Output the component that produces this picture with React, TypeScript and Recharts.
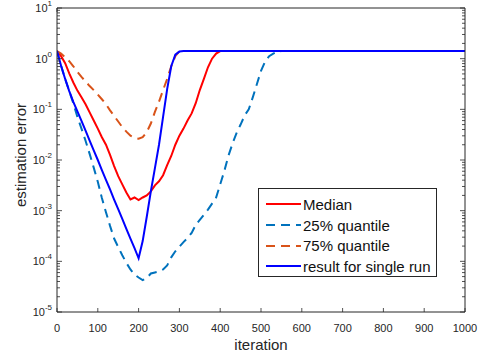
import React from 'react';
import { LineChart, Line, XAxis, YAxis, Legend } from 'recharts';

// iteration grid the curves were read at
const iterations = [
  0, 10, 20, 30, 40, 50, 60, 70, 80, 90,
  100, 110, 120, 130, 140, 150, 160, 170, 180, 190,
  200, 210, 220, 230, 240, 250, 260, 270, 280, 290,
  300, 310, 320, 330, 340, 350, 360, 370, 380, 390,
  400, 410, 420, 430, 440, 450, 460, 470, 480, 490,
  500, 510, 520, 530, 540, 550,
  600, 700, 800, 900, 1000,
];

const medianErr = [
  1.41, 1.12, 0.813, 0.513, 0.339, 0.234, 0.174, 0.126, 0.0871, 0.0603,
  0.0417, 0.0282, 0.02, 0.0126, 0.00759, 0.00479, 0.00331, 0.00229, 0.00166, 0.00182,
  0.00162, 0.00182, 0.002, 0.0024, 0.00316, 0.0038, 0.00501, 0.00794, 0.012, 0.02,
  0.0302, 0.0417, 0.0603, 0.0832, 0.132, 0.24, 0.398, 0.676, 1.0, 1.26,
  1.41, 1.41, 1.41, 1.41, 1.41, 1.41, 1.41, 1.41, 1.41, 1.41,
  1.41, 1.41, 1.41, 1.41, 1.41, 1.41,
  1.41, 1.41, 1.41, 1.41, 1.41,
];

const q25Err = [
  1.41, 0.724, 0.398, 0.229, 0.132, 0.0708, 0.0417, 0.024, 0.0132, 0.00708,
  0.00372, 0.00178, 0.000933, 0.000501, 0.000282, 0.000191, 0.000132, 9.33e-5, 6.92e-5, 5.5e-5,
  4.79e-5, 4.27e-5, 4.68e-5, 5.75e-5, 6.03e-5, 6.31e-5, 6.92e-5, 8.32e-5, 0.00012, 0.000158,
  0.000195, 0.00024, 0.000288, 0.000363, 0.000525, 0.000661, 0.000832, 0.00105, 0.00138, 0.00182,
  0.00331, 0.00603, 0.012, 0.0209, 0.0339, 0.0501, 0.0759, 0.1, 0.174, 0.316,
  0.575, 0.871, 1.12, 1.26, 1.38, 1.41,
  1.41, 1.41, 1.41, 1.41, 1.41,
];

const q75Err = [
  1.41, 1.26, 1.07, 0.891, 0.708, 0.55, 0.437, 0.355, 0.288, 0.24,
  0.195, 0.158, 0.126, 0.0955, 0.0741, 0.0575, 0.0447, 0.0363, 0.0302, 0.0275,
  0.0263, 0.0282, 0.0355, 0.0525, 0.0891, 0.141, 0.24, 0.398, 0.708, 1.12,
  1.41, 1.41, 1.41, 1.41, 1.41, 1.41, 1.41, 1.41, 1.41, 1.41,
  1.41, 1.41, 1.41, 1.41, 1.41, 1.41, 1.41, 1.41, 1.41, 1.41,
  1.41, 1.41, 1.41, 1.41, 1.41, 1.41,
  1.41, 1.41, 1.41, 1.41, 1.41,
];

const singleRunErr = [
  1.41, 0.724, 0.398, 0.229, 0.141, 0.0912, 0.0589, 0.038, 0.024, 0.0155,
  0.01, 0.00631, 0.00407, 0.00263, 0.00166, 0.00107, 0.000692, 0.000437, 0.000282, 0.000182,
  0.000115, 0.000251, 0.000759, 0.0024, 0.00692, 0.02, 0.0708, 0.251, 0.708, 1.2,
  1.38, 1.41, 1.41, 1.41, 1.41, 1.41, 1.41, 1.41, 1.41, 1.41,
  1.41, 1.41, 1.41, 1.41, 1.41, 1.41, 1.41, 1.41, 1.41, 1.41,
  1.41, 1.41, 1.41, 1.41, 1.41, 1.41,
  1.41, 1.41, 1.41, 1.41, 1.41,
];

const xTicks = [0, 100, 200, 300, 400, 500, 600, 700, 800, 900, 1000];
const xTickLabels = ['0', '100', '200', '300', '400', '500', '600', '700', '800', '900', '1000'];
const decadeTicks = [1e-5, 1e-4, 1e-3, 1e-2, 1e-1, 1, 10];
const decadeExponents = ['-5', '-4', '-3', '-2', '-1', '0', '1'];
const minorSteps = [2, 3, 4, 5, 6, 7, 8, 9];

const yTicks = [
  ...decadeTicks,
  ...decadeTicks.slice(0, -1).flatMap((d) => minorSteps.map((m) => d * m)),
];

const series = [
  { key: 'median', name: 'Median', color: '#FF0000', dash: undefined },
  { key: 'q25', name: '25% quantile', color: '#0072BD', dash: '9 6' },
  { key: 'q75', name: '75% quantile', color: '#D95319', dash: '9 6' },
  { key: 'single', name: 'result for single run', color: '#0000FF', dash: undefined },
];

const data = iterations.map((iter, i) => ({
  iter,
  median: medianErr[i],
  q25: q25Err[i],
  q75: q75Err[i],
  single: singleRunErr[i],
}));

const axisColor = '#262626';
const font = '"Liberation Sans", Arial, Helvetica, sans-serif';

const decadeIndex = (v: number) => decadeTicks.findIndex((d) => Math.abs(d - v) / d < 1e-6);

const LeftTick = ({ x, y, payload }: any) => {
  const i = decadeIndex(payload.value);
  return (
    <g>
      <line x1={x} x2={x + (i >= 0 ? 5 : 3)} y1={y} y2={y} stroke={axisColor} strokeWidth={0.8} />
      {i >= 0 && (
        <text x={x - 5} y={y + 4} textAnchor="end" fontSize={11} fill={axisColor} fontFamily={font}>
          <tspan>10</tspan>
          <tspan dy={-6} fontSize={8}>{decadeExponents[i]}</tspan>
        </text>
      )}
    </g>
  );
};

const RightTick = ({ x, y, payload }: any) => {
  const major = decadeIndex(payload.value) >= 0;
  return <line x1={x} x2={x - (major ? 5 : 3)} y1={y} y2={y} stroke={axisColor} strokeWidth={0.8} />;
};

const BottomTick = ({ x, y, payload }: any) => (
  <g>
    <line x1={x} x2={x} y1={y} y2={y - 4} stroke={axisColor} strokeWidth={0.8} />
    <text x={x} y={y + 20} textAnchor="middle" fontSize={11} fill={axisColor} fontFamily={font}>
      {xTickLabels[xTicks.indexOf(payload.value)]}
    </text>
  </g>
);

const TopTick = ({ x, y }: any) => (
  <line x1={x} x2={x} y1={y} y2={y + 4} stroke={axisColor} strokeWidth={0.8} />
);

const YLabel = ({ viewBox }: any) => {
  const cx = viewBox.x + 26;
  const cy = viewBox.y + viewBox.height / 2 - 5;
  return (
    <text x={cx} y={cy} transform={`rotate(-90, ${cx}, ${cy})`} textAnchor="middle"
      fontSize={15} fill={axisColor} fontFamily={font}>
      estimation error
    </text>
  );
};

const XLabel = ({ viewBox }: any) => (
  <text x={viewBox.x + viewBox.width / 2} y={viewBox.y + 38} textAnchor="middle"
    fontSize={15} fill={axisColor} fontFamily={font}>
    iteration
  </text>
);

const LegendBox = () => (
  <div style={{
    border: '1px solid #262626', background: '#fff', padding: '5px 4px 0 7px',
    width: 179, height: 89, boxSizing: 'border-box', fontFamily: font, fontSize: 15, color: '#111',
  }}>
    {series.map((s) => (
      <div key={s.key} style={{ display: 'flex', alignItems: 'center', height: 20.7, whiteSpace: 'nowrap' }}>
        <svg width={35} height={6} style={{ marginRight: 2 }}>
          <line x1={0} x2={35} y1={3} y2={3} stroke={s.color} strokeWidth={2} strokeDasharray={s.dash} />
        </svg>
        <span>{s.name}</span>
      </div>
    ))}
  </div>
);

export default function App() {
  return (
    <div style={{ position: 'absolute', left: 0, top: 0 }}>
      <LineChart width={482} height={354} data={data} margin={{ top: 0, right: 0, bottom: 0, left: 0 }}>
        <XAxis dataKey="iter" type="number" domain={[0, 1000]} ticks={xTicks} interval={0}
          allowDataOverflow height={42} tickSize={0} tickMargin={0} tick={<BottomTick />}
          tickLine={false} axisLine={{ stroke: axisColor }} label={<XLabel />} />
        <XAxis xAxisId="top" orientation="top" type="number" domain={[0, 1000]} ticks={xTicks}
          interval={0} allowDataOverflow height={8} tickSize={0} tickMargin={0} tick={<TopTick />}
          tickLine={false} axisLine={{ stroke: axisColor }} />
        <YAxis type="number" scale="log" domain={[1e-5, 10]} ticks={yTicks} interval={0}
          allowDataOverflow width={57} tickSize={0} tickMargin={0} tick={<LeftTick />}
          tickLine={false} axisLine={{ stroke: axisColor }} label={<YLabel />} />
        <YAxis yAxisId="right" orientation="right" type="number" scale="log" domain={[1e-5, 10]}
          ticks={yTicks} interval={0} allowDataOverflow width={17} tickSize={0} tickMargin={0}
          tick={<RightTick />} tickLine={false} axisLine={{ stroke: axisColor }} />
        {series.map((s) => (
          <Line key={s.key} type="linear" dataKey={s.key} name={s.name} stroke={s.color}
            strokeWidth={2} strokeDasharray={s.dash} dot={false} activeDot={false}
            isAnimationActive={false} />
        ))}
        <Legend layout="vertical" align="center" verticalAlign="middle" content={<LegendBox />}
          wrapperStyle={{ position: 'absolute', left: 258, top: 188, width: 179, height: 89 }} />
      </LineChart>
    </div>
  );
}
